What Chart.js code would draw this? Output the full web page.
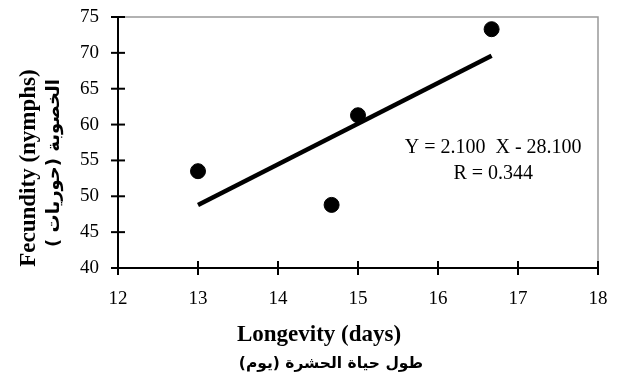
<!DOCTYPE html>
<html>
<head>
<meta charset="utf-8">
<script src="https://cdn.jsdelivr.net/npm/chart.js@4"></script>
<style>
  html, body { margin: 0; padding: 0; background: #fff; }
</style>
</head>
<body>
<canvas id="chart" width="624" height="380"></canvas>
<script>
// Data
const longevity = [13, 14.67, 15, 16.67];
const fecundity = [53.5, 48.8, 61.3, 73.3];
// Regression line ends (as drawn)
const fitX = [13, 16.67];
const fitY = [48.8, 69.6];
const xTicks = [12, 13, 14, 15, 16, 17, 18];
const yTicks = [40, 45, 50, 55, 60, 65, 70, 75];
const eqLines = ['Y = 2.100  X - 28.100', 'R = 0.344'];
const xTitle = ['Longevity (days)', 'طول حياة الحشرة (يوم)'];
const yTitle = ['Fecundity (nymphs)', 'الخصوبة (حوريات )'];

const serif = '"Liberation Serif", "DejaVu Sans", serif';
const arabic = '"DejaVu Sans", sans-serif';

// Plot frame: gray top/right, black cross ticks on left/bottom, titles, equation
const framePlugin = {
    id: 'frame',
    beforeDatasetsDraw(chart) {
        const { ctx, chartArea: a } = chart;
        const xs = chart.scales.x, ys = chart.scales.y;
        ctx.save();
        ctx.strokeStyle = '#999';
        ctx.lineWidth = 1.5;
        ctx.beginPath();
        ctx.moveTo(a.left, a.top);
        ctx.lineTo(a.right, a.top);
        ctx.lineTo(a.right, a.bottom);
        ctx.stroke();

        ctx.strokeStyle = '#000';
        ctx.lineWidth = 2;
        xTicks.forEach(v => {
            const p = xs.getPixelForValue(v);
            ctx.beginPath();
            ctx.moveTo(p, a.bottom - 7);
            ctx.lineTo(p, a.bottom + 7);
            ctx.stroke();
        });
        yTicks.forEach(v => {
            const p = ys.getPixelForValue(v);
            ctx.beginPath();
            ctx.moveTo(a.left - 7, p);
            ctx.lineTo(a.left + 7, p);
            ctx.stroke();
        });
        ctx.beginPath();
        ctx.moveTo(a.left, a.top);
        ctx.lineTo(a.left, a.bottom);
        ctx.lineTo(a.right, a.bottom);
        ctx.stroke();

        ctx.fillStyle = '#000';
        ctx.textAlign = 'center';
        ctx.textBaseline = 'middle';

        // equation text
        ctx.font = '20px ' + serif;
        const tx = xs.getPixelForValue(16.69);
        ctx.fillText(eqLines[0], tx, ys.getPixelForValue(56.7));
        ctx.fillText(eqLines[1], tx, ys.getPixelForValue(53.1));

        // x title
        ctx.font = 'bold 23px ' + serif;
        ctx.fillText(xTitle[0], 319, 335);
        ctx.font = 'bold 15.5px ' + arabic;
        ctx.fillText(xTitle[1], 331, 364);

        // y title
        ctx.save();
        ctx.translate(29, 168);
        ctx.rotate(-Math.PI / 2);
        ctx.font = 'bold 23px ' + serif;
        ctx.fillText(yTitle[0], 0, 0);
        ctx.restore();
        ctx.save();
        ctx.translate(54, 163);
        ctx.rotate(-Math.PI / 2);
        ctx.font = 'bold 18px ' + arabic;
        ctx.fillText(yTitle[1], 0, 0);
        ctx.restore();

        ctx.restore();
    }
};

new Chart(document.getElementById('chart'), {
    type: 'scatter',
    data: {
        datasets: [{
            label: 'Fecundity',
            data: longevity.map((x, i) => ({ x: x, y: fecundity[i] })),
            backgroundColor: '#000',
            borderColor: '#000',
            pointRadius: 7.5,
            pointHoverRadius: 7.5
        }, {
            label: 'Fit',
            type: 'line',
            data: fitX.map((x, i) => ({ x: x, y: fitY[i] })),
            borderColor: '#000',
            borderWidth: 4.5,
            pointRadius: 0,
            fill: false
        }]
    },
    options: {
        responsive: false,
        animation: false,
        devicePixelRatio: 1,
        layout: { padding: { top: 17, right: 26, left: 0, bottom: 0 } },
        plugins: { legend: { display: false }, tooltip: { enabled: false } },
        scales: {
            x: {
                type: 'linear',
                min: 12, max: 18,
                afterBuildTicks: s => { s.ticks = xTicks.map(v => ({ value: v })); },
                afterFit: s => { s.height = 112; s.paddingLeft = 0; s.paddingRight = 0; },
                grid: { display: false, drawTicks: false },
                border: { display: false },
                ticks: { color: '#000', font: { family: serif, size: 19 }, padding: 20 }
            },
            y: {
                min: 40, max: 75,
                afterBuildTicks: s => { s.ticks = yTicks.map(v => ({ value: v })); },
                afterFit: s => { s.width = 118; s.paddingTop = 0; s.paddingBottom = 0; },
                grid: { display: false, drawTicks: false },
                border: { display: false },
                ticks: { color: '#000', font: { family: serif, size: 19 }, padding: 19 }
            }
        }
    },
    plugins: [framePlugin]
});
</script>
</body>
</html>
